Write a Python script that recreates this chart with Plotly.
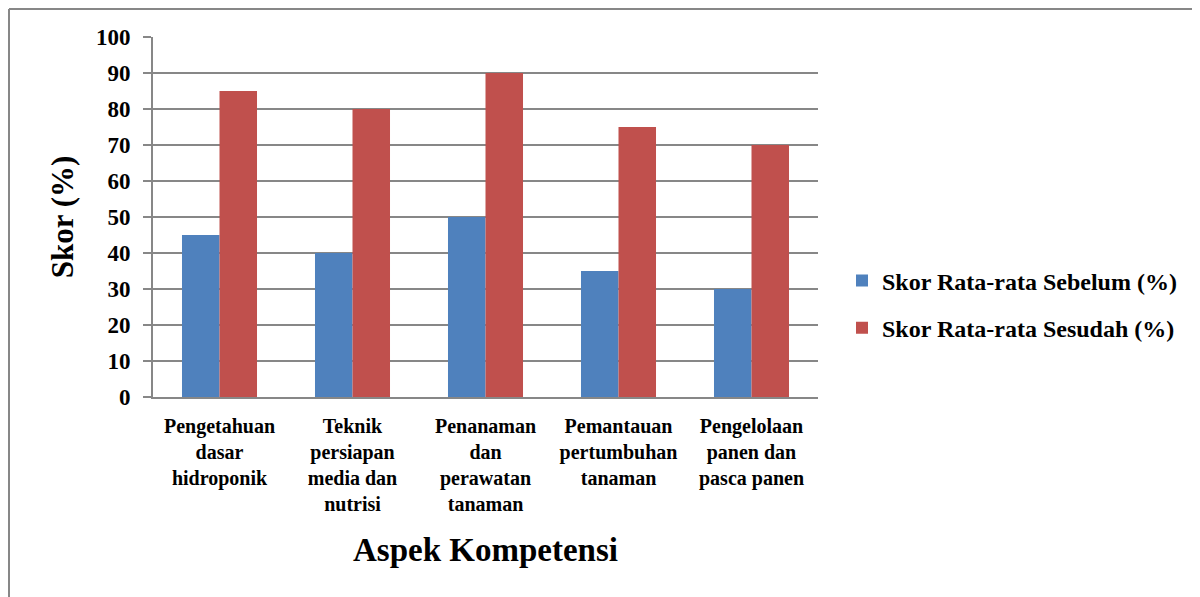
import plotly.graph_objects as go

categories = [
    "Pengetahuan<br>dasar<br>hidroponik",
    "Teknik<br>persiapan<br>media dan<br>nutrisi",
    "Penanaman<br>dan<br>perawatan<br>tanaman",
    "Pemantauan<br>pertumbuhan<br>tanaman",
    "Pengelolaan<br>panen dan<br>pasca panen",
]
sebelum = [45, 40, 50, 35, 30]
sesudah = [85, 80, 90, 75, 70]
series_names = ["Skor Rata-rata Sebelum (%)", "Skor Rata-rata Sesudah (%)"]
y_ticks = [0, 10, 20, 30, 40, 50, 60, 70, 80, 90, 100]

FONT = "Liberation Serif"
GRID = "#878787"
W, H = 1192, 589
L, R, T, B = 145, 382, 29, 200
PW, PH = W - L - R, H - T - B

fig = go.Figure()
fig.add_trace(go.Bar(x=categories, y=sebelum, name=f"<b>{series_names[0]}</b>",
                     marker=dict(color="#4F81BD", line=dict(width=0)), legendgroup="a"))
fig.add_trace(go.Bar(x=categories, y=sesudah, name=f"<b>{series_names[1]}</b>",
                     marker=dict(color="#C0504D", line=dict(width=0)), legendgroup="b"))

fig.update_layout(
    width=W, height=H,
    margin=dict(l=L, r=R, t=T, b=B, autoexpand=False),
    paper_bgcolor="white", plot_bgcolor="white",
    barmode="group", bargap=0.436, bargroupgap=0,
    font=dict(family=FONT, color="black"),
    legend=dict(x=(834 - L) / PW, y=(H - B - 296.5) / PH, xanchor="left", yanchor="middle",
                font=dict(family=FONT, size=24, color="black"),
                traceorder="grouped", tracegroupgap=13, itemwidth=30),
    xaxis=dict(
        showline=True, linecolor=GRID, linewidth=2, ticks="",
        tickfont=dict(family=FONT, size=20, color="black"),
        ticklabelstandoff=10,
        title=dict(text="<b>Aspek Kompetensi</b>", font=dict(family=FONT, size=33, color="black"), standoff=24),
        showgrid=False,
    ),
    yaxis=dict(
        range=[0, 100], tickvals=y_ticks, ticktext=[f"<b>{v}</b>" for v in y_ticks],
        showline=True, linecolor=GRID, linewidth=2,
        ticks="outside", ticklen=8, tickcolor=GRID, tickwidth=2,
        ticklabelstandoff=8,
        showgrid=True, gridcolor=GRID, gridwidth=2, zeroline=False,
        tickfont=dict(family=FONT, size=23, color="black"),
        title=dict(text="<b>Skor (%)</b>", font=dict(family=FONT, size=31, color="black"), standoff=13),
    ),
)
fig.update_xaxes(ticktext=[f"<b>{c}</b>" for c in categories], tickvals=categories)

# outer chart frame (top and left edges visible)
fig.add_shape(type="line", xref="paper", yref="paper",
              x0=(1 - L) / PW, x1=(W - L) / PW, y0=(H - B - 1) / PH, y1=(H - B - 1) / PH,
              line=dict(color=GRID, width=2))
fig.add_shape(type="line", xref="paper", yref="paper",
              x0=(1 - L) / PW, x1=(1 - L) / PW, y0=-B / PH, y1=(H - B - 1) / PH,
              line=dict(color=GRID, width=2))

fig.write_html("out.html")
